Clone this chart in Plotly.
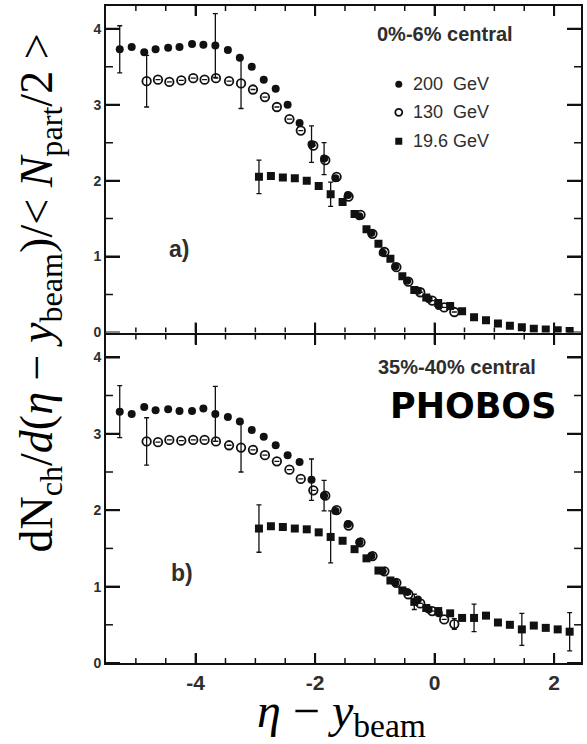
import plotly.graph_objects as go

# ---- panel a) 0%-6% central ----
a200_x = [-5.27, -5.07, -4.86, -4.67, -4.46, -4.27, -4.06, -3.87, -3.67, -3.46,
          -3.26, -3.06, -2.86, -2.66, -2.46, -2.26, -2.06, -1.85, -1.66, -1.45,
          -1.26, -1.06, -0.87, -0.66, -0.46, -0.28, -0.10, 0.07]
a200_y = [3.73, 3.76, 3.69, 3.73, 3.75, 3.76, 3.80, 3.79, 3.78, 3.72,
          3.62, 3.50, 3.33, 3.21, 3.00, 2.76, 2.48, 2.29, 2.03, 1.81,
          1.53, 1.31, 1.05, 0.87, 0.68, 0.55, 0.44, 0.35]
a200_err = [0.31, 0, 0, 0, 0, 0, 0, 0, 0.42, 0,
            0, 0, 0, 0, 0, 0, 0.24, 0.21, 0, 0,
            0, 0, 0, 0, 0, 0, 0, 0]

a130_x = [-4.82, -4.63, -4.44, -4.24, -4.04, -3.85, -3.66, -3.44, -3.24, -3.04,
          -2.84, -2.64, -2.43, -2.24, -2.03, -1.83, -1.64, -1.44, -1.24, -1.04,
          -0.84, -0.64, -0.44, -0.24, -0.04, 0.16, 0.33]
a130_y = [3.31, 3.33, 3.30, 3.32, 3.35, 3.33, 3.35, 3.31, 3.28, 3.20,
          3.10, 2.97, 2.81, 2.66, 2.46, 2.27, 2.05, 1.79, 1.55, 1.30,
          1.06, 0.86, 0.67, 0.53, 0.42, 0.33, 0.27]
a130_err = [0.34, 0, 0, 0, 0, 0, 0, 0, 0.33, 0,
            0, 0, 0, 0, 0, 0, 0, 0, 0, 0,
            0, 0, 0, 0, 0, 0, 0]

a196_x = [-2.94, -2.74, -2.54, -2.34, -2.14, -1.94, -1.74, -1.54, -1.34, -1.14,
          -0.94, -0.74, -0.54, -0.34, -0.14, 0.06, 0.26, 0.46, 0.66, 0.86,
          1.06, 1.26, 1.46, 1.66, 1.86, 2.06, 2.26]
a196_y = [2.05, 2.06, 2.04, 2.03, 2.00, 1.93, 1.82, 1.72, 1.56, 1.36,
          1.17, 0.97, 0.74, 0.56, 0.46, 0.39, 0.35, 0.28, 0.20, 0.16,
          0.12, 0.09, 0.07, 0.05, 0.04, 0.03, 0.02]
a196_err = [0.22, 0, 0, 0, 0, 0, 0.16, 0, 0, 0,
            0, 0, 0, 0, 0, 0, 0, 0, 0, 0,
            0, 0, 0, 0, 0, 0, 0]

# ---- panel b) 35%-40% central ----
b200_x = a200_x
b200_y = [3.29, 3.26, 3.35, 3.31, 3.32, 3.30, 3.30, 3.33, 3.26, 3.22,
          3.16, 3.05, 2.96, 2.85, 2.72, 2.63, 2.40, 2.19, 1.99, 1.82,
          1.58, 1.40, 1.20, 1.05, 0.93, 0.83, 0.70, 0.65]
b200_err = [0.34, 0, 0, 0, 0, 0, 0, 0, 0.36, 0,
            0, 0, 0, 0, 0, 0, 0.27, 0.20, 0, 0,
            0, 0, 0, 0, 0, 0, 0, 0]

b130_x = a130_x
b130_y = [2.90, 2.89, 2.92, 2.91, 2.92, 2.92, 2.90, 2.85, 2.82, 2.79,
          2.72, 2.64, 2.53, 2.41, 2.26, 2.19, 2.00, 1.80, 1.58, 1.40,
          1.20, 1.05, 0.90, 0.78, 0.68, 0.57, 0.51]
b130_err = [0.31, 0, 0, 0, 0, 0, 0, 0, 0.32, 0,
            0, 0, 0, 0, 0, 0, 0, 0, 0, 0,
            0, 0, 0, 0, 0, 0, 0.07]

b196_x = a196_x
b196_y = [1.76, 1.79, 1.78, 1.76, 1.75, 1.71, 1.65, 1.60, 1.49, 1.37,
          1.21, 1.08, 0.95, 0.80, 0.72, 0.68, 0.65, 0.59, 0.59, 0.62,
          0.53, 0.50, 0.44, 0.49, 0.46, 0.44, 0.41]
b196_err = [0.31, 0, 0, 0, 0, 0, 0.34, 0, 0, 0,
            0, 0, 0, 0.10, 0, 0, 0, 0, 0.18, 0,
            0, 0, 0.21, 0, 0, 0, 0.25]

energies = ["200  GeV", "130  GeV", "19.6 GeV"]
x_ticks = [-4, -2, 0, 2]
x_tick_text = ["-4", "-2", "0", "2"]
y_ticks = [0, 1, 2, 3, 4]

X_RANGE = [-5.5, 2.45]
Y_RANGE = [0, 4.3]

INK = "#111111"
GREY_TEXT = "#2e2e2e"

WIDTH, HEIGHT = 587, 744
MARGIN = dict(l=106, r=4, t=6, b=81)
PLOT_W = WIDTH - MARGIN["l"] - MARGIN["r"]
PLOT_H = HEIGHT - MARGIN["t"] - MARGIN["b"]
PANEL_H = PLOT_H / 2
# data units per pixel, for expressing tick lengths on each axis
DX = (X_RANGE[1] - X_RANGE[0]) / PLOT_W
DY = (Y_RANGE[1] - Y_RANGE[0]) / PANEL_H


def marker_style(kind):
    if kind == "filled":
        return dict(symbol="circle", size=8, color=INK, line=dict(width=0))
    if kind == "open":
        return dict(symbol="circle-open", size=8.5, color=INK, line=dict(width=1.8))
    return dict(symbol="square", size=8, color=INK, line=dict(width=0))


def series(x, y, err, kind, yaxis):
    return go.Scatter(
        x=x, y=y, mode="markers", marker=marker_style(kind),
        error_y=dict(type="data", array=err, visible=True, color=INK,
                     thickness=1.3, width=2.5),
        xaxis="x" if yaxis == "y" else "x2", yaxis=yaxis, showlegend=False,
        hoverinfo="x+y",
    )


fig = go.Figure()
# top panel (x2/y2), bottom panel (x/y)
fig.add_trace(series(a200_x, a200_y, a200_err, "filled", "y2"))
fig.add_trace(series(a130_x, a130_y, a130_err, "open", "y2"))
fig.add_trace(series(a196_x, a196_y, a196_err, "square", "y2"))
fig.add_trace(series(b200_x, b200_y, b200_err, "filled", "y"))
fig.add_trace(series(b130_x, b130_y, b130_err, "open", "y"))
fig.add_trace(series(b196_x, b196_y, b196_err, "square", "y"))

frame = dict(showline=True, linecolor=INK, linewidth=2, mirror="ticks",
             showgrid=False, zeroline=False, ticks="inside", tickcolor=INK,
             tickwidth=2)
ytickfont = dict(family="Liberation Sans", size=14, color=GREY_TEXT, weight="bold")

# the top panel sits 2 px higher so both frame lines at the seam coincide
seam = 0.5 + 2 / PLOT_H

fig.update_layout(
    width=WIDTH, height=HEIGHT, margin=MARGIN,
    paper_bgcolor="white", plot_bgcolor="white",
    xaxis=dict(domain=[0, 1], range=X_RANGE, anchor="y", ticklen=10,
               tickmode="array", tickvals=x_ticks, ticktext=x_tick_text,
               tickfont=dict(family="Liberation Sans", size=21, color=GREY_TEXT,
                             weight="bold"),
               **frame),
    xaxis2=dict(domain=[0, 1], range=X_RANGE, anchor="y2", ticklen=10,
                tickmode="array", tickvals=x_ticks,
                showticklabels=False, **frame),
    yaxis=dict(domain=[0, 0.5], range=Y_RANGE, anchor="x", ticklen=14,
               tickmode="array", tickvals=y_ticks, tickfont=ytickfont, **frame),
    yaxis2=dict(domain=[seam, 1], range=Y_RANGE, anchor="x2", ticklen=14,
                tickmode="array", tickvals=y_ticks, tickfont=ytickfont, **frame),
)

# inward tick marks on every side of each panel (major + half-unit minor)
x_minor = [v / 2 for v in range(-10, 5) if (v / 2) not in x_ticks]
y_minor = [v / 2 for v in range(1, 9) if (v / 2) not in y_ticks]
x_len = {"major": 10 * DY, "minor": 5 * DY}
y_len = {"major": 14 * DX, "minor": 7 * DX}
tick_w = {"major": 2, "minor": 1.5}

for xr, yr in (("x", "y"), ("x2", "y2")):
    for kind, vals in (("major", x_ticks), ("minor", x_minor)):
        for v in vals:
            for base, sign in ((Y_RANGE[0], 1), (Y_RANGE[1], -1)):
                fig.add_shape(type="line", xref=xr, yref=yr,
                              x0=v, x1=v, y0=base, y1=base + sign * x_len[kind],
                              line=dict(color=INK, width=tick_w[kind]),
                              layer="above")
    for kind, vals in (("major", y_ticks), ("minor", y_minor)):
        for v in vals:
            for base, sign in ((X_RANGE[0], 1), (X_RANGE[1], -1)):
                fig.add_shape(type="line", xref=xr, yref=yr,
                              x0=base, x1=base + sign * y_len[kind], y0=v, y1=v,
                              line=dict(color=INK, width=tick_w[kind]),
                              layer="above")

label_font = dict(family="Liberation Sans", color=GREY_TEXT, weight="bold")
fig.add_annotation(text="0%-6% central", xref="x2", yref="y2",
                   x=0.18, y=3.93, showarrow=False, xanchor="center",
                   font=dict(size=20, **label_font))
fig.add_annotation(text="35%-40% central", xref="x", yref="y",
                   x=0.37, y=3.88, showarrow=False, xanchor="center",
                   font=dict(size=20, **label_font))
fig.add_annotation(text="a)", xref="x2", yref="y2", x=-4.27, y=1.1,
                   showarrow=False, font=dict(size=23, **label_font))
fig.add_annotation(text="b)", xref="x", yref="y", x=-4.23, y=1.18,
                   showarrow=False, font=dict(size=23, **label_font))
fig.add_annotation(text="PHOBOS", xref="x", yref="y", x=0.65, y=3.36,
                   showarrow=False, xanchor="center",
                   font=dict(family="DejaVu Sans", size=35, color="black",
                             weight="bold"))

# legend entries drawn in the top panel
legend_y = [3.27, 2.90, 2.52]
legend_kinds = ["filled", "open", "square"]
for name, ly, kind in zip(energies, legend_y, legend_kinds):
    m = marker_style(kind)
    m["size"] = 7
    fig.add_trace(go.Scatter(x=[-0.6], y=[ly], mode="markers", marker=m,
                             xaxis="x2", yaxis="y2", showlegend=False,
                             hoverinfo="skip"))
    fig.add_annotation(text=name.replace(" ", "&nbsp;"), xref="x2", yref="y2",
                       x=-0.4, y=ly, xanchor="left", showarrow=False,
                       font=dict(size=18, family="Liberation Sans",
                                 color=GREY_TEXT))

# axis titles
fig.add_annotation(
    text="<i>η</i> − <i>y</i><sub>beam</sub>", xref="paper", yref="paper",
    x=0.495, y=-0.078, showarrow=False, xanchor="center", yanchor="middle",
    font=dict(family="Liberation Serif", size=48, color="black"))
fig.add_annotation(
    text="dN<sub>ch</sub>/<i>d</i>(<i>η</i> − <i>y</i><sub>beam</sub>)/&lt; <i>N</i><sub>part</sub>/2 &gt;",
    xref="paper", yref="paper", x=-0.138, y=0.563, showarrow=False,
    textangle=-90, xanchor="center", yanchor="middle",
    font=dict(family="Liberation Serif", size=46, color="black"))

fig.write_html("out.html")
